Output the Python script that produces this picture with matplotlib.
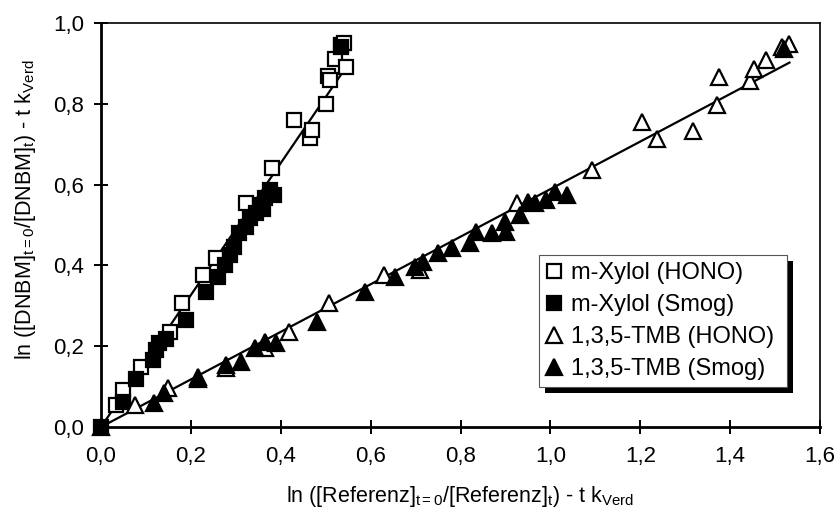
import matplotlib
matplotlib.use("Agg")
import matplotlib.pyplot as plt
from matplotlib.ticker import FuncFormatter, MultipleLocator
from matplotlib.patches import Rectangle

plt.rcParams['font.family'] = ['Liberation Sans', 'DejaVu Sans']
plt.rcParams['mathtext.fontset'] = 'custom'
plt.rcParams['mathtext.rm'] = 'Liberation Sans'
plt.rcParams['mathtext.it'] = 'Liberation Sans'
plt.rcParams['mathtext.default'] = 'rm'

# ---- data ----
xyl_hono_x = [0.034, 0.049, 0.090, 0.153, 0.180, 0.227, 0.257, 0.323, 0.380, 0.430,
              0.465, 0.470, 0.500, 0.505, 0.510, 0.520, 0.535, 0.540, 0.545]
xyl_hono_y = [0.054, 0.092, 0.149, 0.236, 0.306, 0.376, 0.418, 0.554, 0.640, 0.760,
              0.715, 0.735, 0.800, 0.870, 0.860, 0.910, 0.945, 0.950, 0.890]

xyl_smog_x = [0.000, 0.049, 0.078, 0.115, 0.123, 0.130, 0.145, 0.190, 0.233, 0.260,
              0.275, 0.286, 0.297, 0.308, 0.323, 0.331, 0.346, 0.353, 0.360, 0.364,
              0.375, 0.385, 0.535]
xyl_smog_y = [0.000, 0.063, 0.120, 0.166, 0.190, 0.208, 0.219, 0.265, 0.335, 0.372,
              0.401, 0.426, 0.446, 0.479, 0.496, 0.517, 0.529, 0.550, 0.540, 0.566,
              0.587, 0.575, 0.940]

tmb_hono_x = [0.075, 0.149, 0.216, 0.279, 0.364, 0.418, 0.507, 0.629, 0.709, 0.925,
              1.092, 1.203, 1.238, 1.318, 1.370, 1.375, 1.444, 1.454, 1.480, 1.515, 1.532]
tmb_hono_y = [0.054, 0.096, 0.118, 0.146, 0.195, 0.236, 0.306, 0.376, 0.389, 0.554,
              0.636, 0.756, 0.712, 0.733, 0.797, 0.867, 0.856, 0.885, 0.908, 0.941, 0.947]

tmb_smog_x = [0.000, 0.119, 0.141, 0.216, 0.279, 0.312, 0.342, 0.364, 0.390, 0.481,
              0.587, 0.654, 0.698, 0.717, 0.750, 0.780, 0.821, 0.834, 0.869, 0.899,
              0.901, 0.932, 0.951, 0.965, 0.991, 1.010, 1.036, 1.520]
tmb_smog_y = [0.000, 0.059, 0.083, 0.125, 0.153, 0.162, 0.195, 0.211, 0.207, 0.261,
              0.335, 0.372, 0.397, 0.409, 0.430, 0.442, 0.455, 0.483, 0.479, 0.508,
              0.483, 0.525, 0.558, 0.554, 0.562, 0.582, 0.574, 0.935]

xyl_fit_x = [0.0, 0.545]
xyl_fit_y = [0.0, 0.890]
tmb_fit_x = [0.0, 1.532]
tmb_fit_y = [0.0, 0.902]

labels = ['m-Xylol (HONO)', 'm-Xylol (Smog)', '1,3,5-TMB (HONO)', '1,3,5-TMB (Smog)']

# ---- figure ----
fig = plt.figure(figsize=(8.38, 5.17), dpi=100)
ax = fig.add_axes([101/838, 1-427/517, (820-101)/838, (427-23)/517])

ax.plot(xyl_fit_x, xyl_fit_y, color='black', lw=1.6, zorder=2)
ax.plot(tmb_fit_x, tmb_fit_y, color='black', lw=1.6, zorder=2)

ms = 10
mew = 1.6
h1, = ax.plot(xyl_hono_x, xyl_hono_y, ls='none', marker='s', ms=ms, mfc='white', mec='black', mew=mew, clip_on=False, zorder=3)
h2, = ax.plot(xyl_smog_x, xyl_smog_y, ls='none', marker='s', ms=ms, mfc='black', mec='black', mew=mew, clip_on=False, zorder=3)
h3, = ax.plot(tmb_hono_x, tmb_hono_y, ls='none', marker='^', ms=ms+1, mfc='white', mec='black', mew=mew, clip_on=False, zorder=3)
h4, = ax.plot(tmb_smog_x, tmb_smog_y, ls='none', marker='^', ms=ms+1, mfc='black', mec='black', mew=mew, clip_on=False, zorder=3)

ax.set_xlim(0, 1.6)
ax.set_ylim(0, 1.0)
ax.xaxis.set_major_locator(MultipleLocator(0.2))
ax.yaxis.set_major_locator(MultipleLocator(0.2))
fmt = FuncFormatter(lambda v, p: f"{v:.1f}".replace('.', ','))
ax.xaxis.set_major_formatter(fmt)
ax.yaxis.set_major_formatter(fmt)
ax.tick_params(direction='inout', length=10, width=1.4, labelsize=16, colors='black')
ax.tick_params(axis='x', pad=9)
ax.tick_params(axis='y', pad=7)

for s in ['left', 'bottom']:
    ax.spines[s].set_linewidth(2.0)
for s in ['top', 'right']:
    ax.spines[s].set_linewidth(1.2)

ax.set_xlabel(r'ln ([Referenz]$_{\mathrm{t{=}0}}$/[Referenz]$_{\mathrm{t}}$) - t k$_{\mathrm{Verd}}$', fontsize=15.5)
ax.set_ylabel(r'ln ([DNBM]$_{\mathrm{t{=}0}}$/[DNBM]$_{\mathrm{t}}$) - t k$_{\mathrm{Verd}}$', fontsize=15.5)
ax.xaxis.set_label_coords(0.5, (427-484)/404)
ax.yaxis.set_label_coords((38-101)/719, (427-210)/404)

leg = ax.legend([h1, h2, h3, h4], labels, loc='lower left',
                bbox_to_anchor=((539-101)/719, (427-387)/404, (787-539)/719, (387-238)/404),
                mode='expand', fontsize=17, frameon=True, fancybox=False,
                edgecolor='#555555', framealpha=1, handlelength=0.7, handletextpad=0.35,
                labelspacing=0.42, borderpad=0.3, borderaxespad=0, markerscale=1.0)
leg.get_frame().set_linewidth(0.8)
leg.set_zorder(6)

fig.canvas.draw()
bb = leg.get_frame().get_window_extent().transformed(ax.transAxes.inverted())
dx = 6/719
dy = 6/404
shadow = Rectangle((bb.x0 + dx, bb.y0 - dy), bb.width, bb.height, transform=ax.transAxes,
                   facecolor='black', edgecolor='none', zorder=5.5, clip_on=False)
ax.add_patch(shadow)

fig.savefig('out.png', dpi=100)
